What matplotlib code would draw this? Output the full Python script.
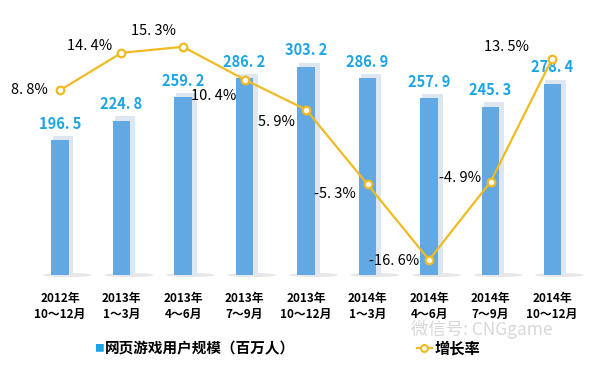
import numpy as np
import matplotlib.pyplot as plt
from matplotlib.patches import Ellipse

plt.rcParams['font.family'] = ['Noto Sans CJK SC', 'DejaVu Sans']

periods = ['2012年\n10～12月', '2013年\n1～3月', '2013年\n4～6月', '2013年\n7～9月',
           '2013年\n10～12月', '2014年\n1～3月', '2014年\n4～6月', '2014年\n7～9月',
           '2014年\n10～12月']
users = [196.5, 224.8, 259.2, 286.2, 303.2, 286.9, 257.9, 245.3, 278.4]
growth = [8.8, 14.4, 15.3, 10.4, 5.9, -5.3, -16.6, -4.9, 13.5]
# label offsets (points) for growth labels, relative to marker
growth_offsets = [(-8.6, 0), (-6.5, 5), (-5, 11.5), (-5.8, -11.5), (-8, -8.6),
                  (-8.6, -7.2), (-7.2, -0.7), (-6.5, 3), (-16.5, 8.6)]

bar_color = '#62a8e2'
shadow_color = '#dde6f1'
label_color = '#1ba5e6'
line_color = '#f0bb22'

fig = plt.figure(figsize=(5.96, 3.69), dpi=100)
ax = fig.add_axes([0.049, 0.2547, 0.929, 0.718])
x = np.arange(len(periods))

# floor shadow under each bar
for xi in x:
    ax.add_patch(Ellipse((xi + 0.12, 0), 0.8, 6, color='#b0b0b0', alpha=0.3,
                         lw=0, clip_on=False, zorder=0))
# 3D-ish shadow behind each bar
ax.bar(x + 0.055, [u + 6 for u in users], width=0.33, color=shadow_color, zorder=1)
ax.bar(x, users, width=0.28, color=bar_color, zorder=2)
for xi, u in zip(x, users):
    ax.annotate(f'{u:.1f}'.replace('.', '. '), (xi, u + 6), xytext=(0, 3),
                textcoords='offset points', ha='center', va='bottom',
                color=label_color, fontsize=10.5, fontweight='bold')

ax.set_xlim(-0.5, len(periods) - 0.5)
ax.set_ylim(0, 385.7)
ax.set_xticks(x)
ax.set_xticklabels(periods, fontsize=8.5, fontweight='bold', linespacing=1.3)
ax.tick_params(axis='x', length=0, pad=12)
ax.set_yticks([])
for s in ax.spines.values():
    s.set_visible(False)

ax2 = ax.twinx()
ax2.set_ylim(-18.86, 20.8)
ax2.plot(x, growth, color=line_color, lw=1.6, marker='o', ms=5.5,
         mfc='white', mec=line_color, mew=1.6, zorder=5)
for xi, g, off in zip(x, growth, growth_offsets):
    ax2.annotate(f'{g:.1f}%'.replace('.', '. '), (xi, g), xytext=off,
                 textcoords='offset points', ha='right', va='center',
                 fontsize=10.5, color='black', fontweight='medium')
ax2.set_yticks([])
for s in ax2.spines.values():
    s.set_visible(False)

# legend
fig.text(0.158, 0.056, '■', color=label_color, fontsize=7, va='center')
fig.text(0.176, 0.056, '网页游戏用户规模（百万人）', fontsize=10.5, fontweight='bold', va='center')
fig.add_artist(plt.Line2D([0.700, 0.725], [0.058, 0.058], transform=fig.transFigure,
                          color=line_color, lw=1.6))
fig.add_artist(plt.Line2D([0.7115], [0.058], transform=fig.transFigure, marker='o',
                          ms=5, mfc='white', mec=line_color, mew=1.5, lw=0))
fig.text(0.729, 0.056, '增长率', fontsize=11, fontweight='bold', va='center')

# watermark
fig.text(0.69, 0.107, '微信号: CNGgame', fontsize=12.5, color='#d8d8d8', va='center')

fig.savefig('out.png', dpi=100)
